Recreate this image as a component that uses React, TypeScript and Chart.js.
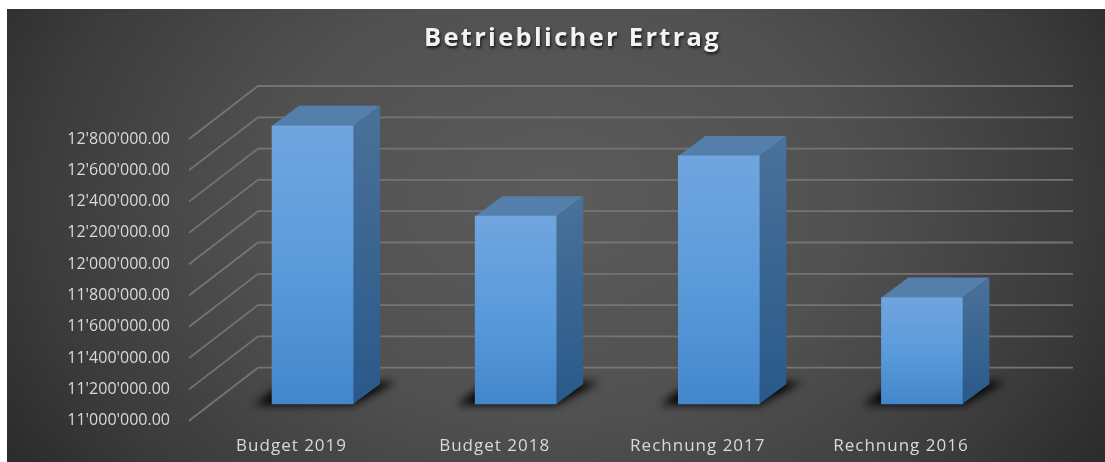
import React, { useEffect, useRef } from "react";
import { Chart, registerables } from "chart.js";

Chart.register(...registerables);

const title = "Betrieblicher Ertrag";
const categories = ["Budget 2019", "Budget 2018", "Rechnung 2017", "Rechnung 2016"];
const values = [12778000, 12200000, 12585000, 11680000];
const yTicks = [11000000, 11200000, 11400000, 11600000, 11800000, 12000000, 12200000, 12400000, 12600000, 12800000];
const yTickLabels = [
  "11'000'000.00", "11'200'000.00", "11'400'000.00", "11'600'000.00", "11'800'000.00",
  "12'000'000.00", "12'200'000.00", "12'400'000.00", "12'600'000.00", "12'800'000.00",
];

const FONT = '"Open Sans", "Noto Sans", sans-serif';
const GRID_FRONT_X = 189;
const GRID_BACK_X = 258;
const GRID_RIGHT_X = 1073;
const GRID_DY = -53;
const BAR_SHIFT_Y = -16.7;
const DEPTH_X = 27;
const DEPTH_Y = -20;

function poly(ctx: CanvasRenderingContext2D, pts: number[][]) {
  ctx.beginPath();
  pts.forEach((p, i) => (i ? ctx.lineTo(p[0], p[1]) : ctx.moveTo(p[0], p[1])));
  ctx.closePath();
}

const chart3d = {
  id: "chart3d",
  afterLayout(chart: any) {
    const tb = chart.titleBlock;
    if (tb) {
      tb.left = 40;
      tb.right = 1105;
      if (!tb.__patched) {
        tb.__patched = true;
        const orig = tb.draw;
        tb.draw = function (...args: any[]) {
          const ctx = chart.ctx;
          ctx.save();
          ctx.letterSpacing = "2.3px";
          ctx.shadowColor = "rgba(0,0,0,0.75)";
          ctx.shadowBlur = 3;
          ctx.shadowOffsetX = 1;
          ctx.shadowOffsetY = 2;
          orig.apply(this, args);
          ctx.restore();
        };
      }
    }
    const xs = chart.scales.x;
    if (xs && !xs.__patched) {
      xs.__patched = true;
      const origLabels = xs.drawLabels;
      xs.drawLabels = function (...args: any[]) {
        const ctx = chart.ctx;
        ctx.save();
        ctx.letterSpacing = "1px";
        origLabels.apply(this, args);
        ctx.restore();
      };
    }
  },
  beforeDraw(chart: any) {
    const ctx = chart.ctx;
    ctx.save();
    ctx.fillStyle = "#ffffff";
    ctx.fillRect(0, 0, chart.width, chart.height);
    const cx = 556;
    const cy = 200;
    ctx.save();
    ctx.beginPath();
    ctx.rect(7, 9, chart.width - 7, chart.height - 9);
    ctx.clip();
    ctx.translate(cx, cy);
    ctx.scale(1, 0.75);
    const g = ctx.createRadialGradient(0, 0, 0, 0, 0, 640);
    g.addColorStop(0, "#5b5b5b");
    g.addColorStop(0.45, "#515151");
    g.addColorStop(0.8, "#3c3c3c");
    g.addColorStop(1, "#2c2c2c");
    ctx.fillStyle = g;
    ctx.fillRect(-cx - 10, -cy * 3, chart.width + 20, chart.height * 4);
    ctx.restore();
    ctx.restore();
  },
  beforeDatasetsDraw(chart: any) {
    const ctx = chart.ctx;
    const yScale = chart.scales.y;
    ctx.save();
    ctx.strokeStyle = "#747474";
    ctx.lineWidth = 1.8;
    yTicks.forEach((v) => {
      const y = yScale.getPixelForValue(v);
      ctx.beginPath();
      ctx.moveTo(GRID_FRONT_X, y);
      ctx.lineTo(GRID_BACK_X, y + GRID_DY);
      ctx.lineTo(GRID_RIGHT_X, y + GRID_DY);
      ctx.stroke();
    });
    ctx.restore();

    ctx.save();
    ctx.translate(0, BAR_SHIFT_Y);
    const bars = chart.getDatasetMeta(0).data;
    bars.forEach((el: any) => {
      const l = el.x - el.width / 2;
      const r = el.x + el.width / 2;
      const b = el.base;
      ctx.save();
      ctx.filter = "blur(4px)";
      ctx.fillStyle = "rgba(0,0,0,0.95)";
      poly(ctx, [
        [l - 18, b + 1],
        [r, b + 1],
        [r + DEPTH_X + 16, b + DEPTH_Y - 2],
        [l + 12, b + DEPTH_Y - 2],
      ]);
      ctx.fill();
      ctx.restore();
    });
    bars.forEach((el: any) => {
      const l = el.x - el.width / 2;
      const r = el.x + el.width / 2;
      const t = el.y;
      const b = el.base;
      const side = ctx.createLinearGradient(0, t + DEPTH_Y, 0, b);
      side.addColorStop(0, "#4a7199");
      side.addColorStop(1, "#29598a");
      ctx.fillStyle = side;
      poly(ctx, [
        [r, t],
        [r + DEPTH_X, t + DEPTH_Y],
        [r + DEPTH_X, b + DEPTH_Y],
        [r, b],
      ]);
      ctx.fill();
      ctx.fillStyle = "#557fab";
      poly(ctx, [
        [l, t],
        [l + DEPTH_X, t + DEPTH_Y],
        [r + DEPTH_X, t + DEPTH_Y],
        [r, t],
      ]);
      ctx.fill();
    });
  },
  afterDatasetsDraw(chart: any) {
    chart.ctx.restore();
  },
};

export default function App() {
  const ref = useRef<HTMLCanvasElement>(null);
  useEffect(() => {
    const chart = new Chart(ref.current as HTMLCanvasElement, {
      type: "bar",
      data: {
        labels: categories,
        datasets: [
          {
            label: title,
            data: values,
            base: yTicks[0],
            barThickness: 81,
            borderWidth: 0,
            clip: false,
            backgroundColor: (c: any) => {
              const s = c.chart.scales?.y;
              const top = s ? s.getPixelForValue(c.raw) : NaN;
              const bottom = s ? s.getPixelForValue(yTicks[0]) : NaN;
              if (!Number.isFinite(top) || !Number.isFinite(bottom)) return "#5596d8";
              const g = c.chart.ctx.createLinearGradient(0, top, 0, bottom);
              g.addColorStop(0, "#70a5df");
              g.addColorStop(0.5, "#5b9bdb");
              g.addColorStop(1, "#4387cb");
              return g;
            },
          } as any,
        ],
      },
      plugins: [chart3d],
      options: {
        responsive: false,
        animation: false,
        layout: { padding: { top: 23, left: 0, right: 81.5, bottom: 0 } },
        plugins: {
          legend: { display: false },
          tooltip: { enabled: false },
          title: {
            display: true,
            text: title,
            color: "#f2f2f2",
            font: { family: FONT, size: 25.5, weight: "bold" },
            padding: { top: 0, bottom: 85.4 },
          },
        },
        scales: {
          x: {
            grid: { display: false, drawTicks: false },
            border: { display: false },
            afterFit: (s: any) => {
              s.height = 41.3;
              s.paddingLeft = 0;
              s.paddingRight = 0;
            },
            ticks: {
              color: "#d9d9d9",
              font: { family: FONT, size: 17 },
              padding: 15,
              labelOffset: -21,
              maxRotation: 0,
              autoSkip: false,
            },
          },
          y: {
            min: yTicks[0],
            max: yTicks[yTicks.length - 1],
            grid: { display: false, drawTicks: false },
            border: { display: false },
            afterFit: (s: any) => {
              s.width = 211;
              s.paddingTop = 0;
              s.paddingBottom = 0;
            },
            ticks: {
              stepSize: 200000,
              color: "#d9d9d9",
              font: { family: FONT, size: 16 },
              padding: 41,
              callback: (_v: any, i: number) => yTickLabels[i],
            },
          },
        },
      },
    } as any);
    return () => chart.destroy();
  }, []);
  return (
    <div style={{ position: "fixed", left: 0, top: 0, width: 1105, height: 462, overflow: "hidden" }}>
      <canvas ref={ref} width={1105} height={462} style={{ display: "block", filter: "blur(0.5px)" }} />
    </div>
  );
}
